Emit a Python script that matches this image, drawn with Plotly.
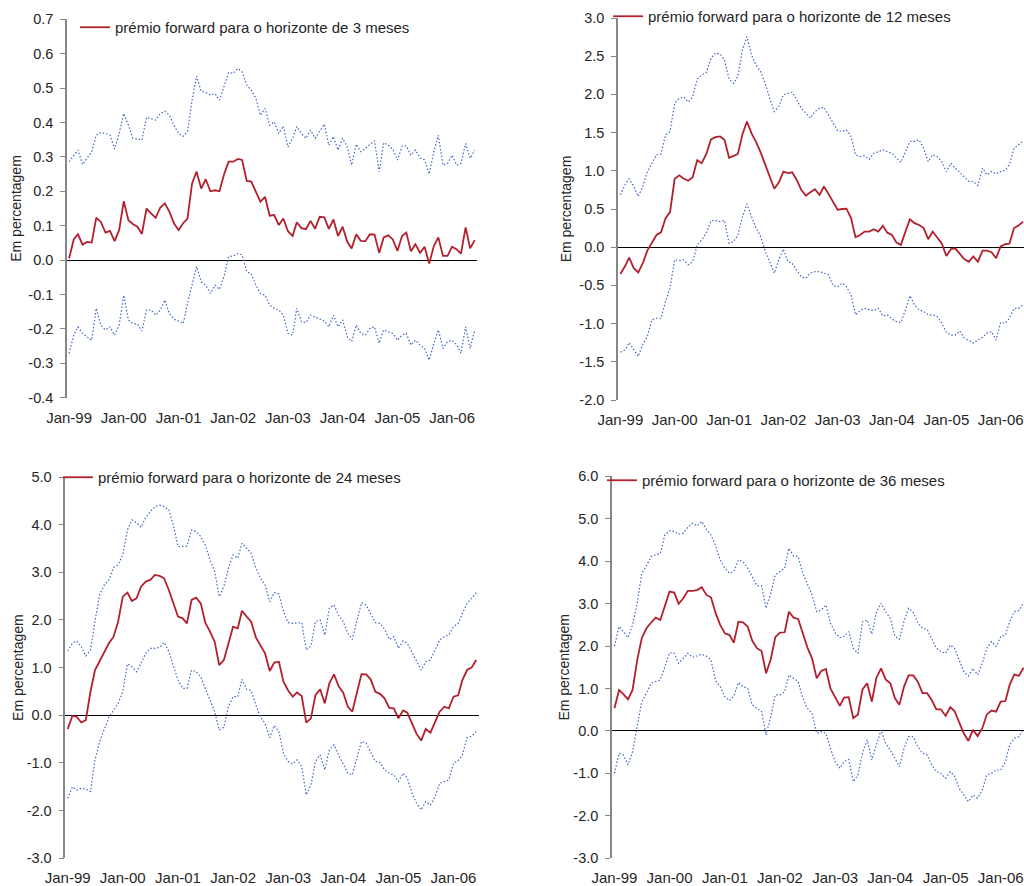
import pandas as pd
import plotly.graph_objects as go

# ---------------- data (monthly, Jan-1999 .. Jun-2006) ----------------
MONTHS = pd.date_range("1999-01-01", periods=90, freq="MS")

PREMIO_3M = [0.005,0.06,0.075,0.045,0.053,0.051,0.123,0.111,0.08,0.085,
0.055,0.087,0.171,0.116,0.105,0.097,0.076,0.15,0.136,0.123,
0.153,0.165,0.14,0.107,0.087,0.108,0.12,0.223,0.257,0.208,
0.235,0.2,0.203,0.2,0.25,0.286,0.286,0.294,0.291,0.23,
0.228,0.198,0.17,0.184,0.129,0.131,0.102,0.121,0.084,0.07,
0.11,0.093,0.09,0.114,0.091,0.126,0.124,0.091,0.118,0.07,
0.097,0.053,0.034,0.075,0.056,0.055,0.075,0.074,0.021,0.066,
0.072,0.06,0.027,0.07,0.08,0.026,0.046,0.021,0.039,-0.01,
0.041,0.066,0.012,0.012,0.039,0.031,0.019,0.095,0.034,0.058]
UPPER_3M = [0.286,0.305,0.32,0.278,0.296,0.315,0.363,0.371,0.368,0.363,
0.323,0.368,0.426,0.392,0.354,0.352,0.349,0.415,0.412,0.407,
0.426,0.433,0.421,0.392,0.368,0.36,0.373,0.465,0.535,0.491,
0.487,0.48,0.484,0.465,0.506,0.545,0.543,0.557,0.547,0.509,
0.494,0.47,0.421,0.441,0.392,0.402,0.368,0.39,0.329,0.354,
0.388,0.368,0.354,0.378,0.354,0.373,0.395,0.334,0.359,0.32,
0.354,0.329,0.276,0.337,0.315,0.325,0.337,0.347,0.257,0.341,
0.334,0.322,0.291,0.331,0.332,0.305,0.32,0.297,0.291,0.25,
0.315,0.363,0.276,0.281,0.305,0.276,0.281,0.339,0.296,0.32]
LOWER_3M = [-0.271,-0.218,-0.194,-0.213,-0.223,-0.233,-0.14,-0.189,-0.203,-0.194,
-0.218,-0.189,-0.102,-0.174,-0.184,-0.186,-0.206,-0.145,-0.145,-0.16,
-0.145,-0.116,-0.155,-0.172,-0.177,-0.184,-0.126,-0.073,-0.019,-0.063,
-0.073,-0.097,-0.073,-0.085,-0.047,0.01,0.012,0.019,0.015,-0.034,
-0.039,-0.073,-0.097,-0.102,-0.131,-0.14,-0.145,-0.16,-0.213,-0.218,
-0.14,-0.179,-0.182,-0.16,-0.165,-0.172,-0.177,-0.194,-0.16,-0.194,
-0.174,-0.223,-0.237,-0.189,-0.213,-0.218,-0.199,-0.194,-0.242,-0.203,
-0.208,-0.213,-0.233,-0.218,-0.213,-0.247,-0.233,-0.247,-0.257,-0.291,
-0.242,-0.203,-0.257,-0.237,-0.233,-0.247,-0.271,-0.194,-0.257,-0.203]

PREMIO_12M = [-0.35,-0.25,-0.135,-0.275,-0.33,-0.21,-0.045,0.065,0.16,0.195,
0.38,0.46,0.895,0.94,0.9,0.87,0.915,1.14,1.1,1.22,
1.41,1.44,1.45,1.405,1.17,1.195,1.22,1.48,1.645,1.49,
1.38,1.24,1.065,0.925,0.765,0.845,0.99,0.97,0.98,0.88,
0.75,0.675,0.72,0.76,0.685,0.795,0.695,0.6,0.49,0.5,
0.505,0.38,0.13,0.16,0.205,0.205,0.235,0.205,0.28,0.19,
0.16,0.06,0.03,0.205,0.365,0.315,0.29,0.25,0.105,0.205,
0.13,0.05,-0.115,-0.025,-0.015,-0.08,-0.155,-0.19,-0.12,-0.19,
-0.045,-0.045,-0.065,-0.145,0.01,0.04,0.045,0.25,0.285,0.335]
UPPER_12M = [0.685,0.815,0.895,0.795,0.665,0.795,0.99,1.1,1.21,1.22,
1.47,1.515,1.885,1.95,1.965,1.9,1.97,2.2,2.255,2.285,
2.475,2.54,2.53,2.45,2.2,2.145,2.235,2.585,2.755,2.515,
2.385,2.3,2.145,1.95,1.775,1.84,1.995,2.015,2.03,1.93,
1.82,1.755,1.69,1.775,1.82,1.83,1.73,1.625,1.525,1.515,
1.535,1.45,1.21,1.185,1.195,1.15,1.23,1.25,1.275,1.25,
1.23,1.165,1.11,1.25,1.385,1.385,1.405,1.295,1.12,1.21,
1.185,1.12,0.99,1.1,1.035,0.98,0.925,0.86,0.86,0.81,
1.035,0.945,0.99,0.96,0.99,1.01,1.08,1.295,1.34,1.385]
LOWER_12M = [-1.375,-1.345,-1.25,-1.345,-1.43,-1.27,-1.17,-0.95,-0.93,-0.93,
-0.71,-0.535,-0.165,-0.175,-0.165,-0.23,-0.19,0.03,0.095,0.185,
0.345,0.35,0.335,0.35,0.05,0.075,0.16,0.4,0.565,0.4,
0.255,0.14,-0.055,-0.19,-0.34,-0.165,-0.025,-0.19,-0.21,-0.305,
-0.385,-0.405,-0.34,-0.32,-0.32,-0.34,-0.36,-0.505,-0.515,-0.47,
-0.515,-0.625,-0.885,-0.83,-0.8,-0.82,-0.83,-0.8,-0.9,-0.885,
-0.94,-0.975,-0.985,-0.82,-0.635,-0.755,-0.82,-0.84,-0.885,-0.885,
-0.91,-0.995,-1.115,-1.15,-1.15,-1.095,-1.19,-1.22,-1.255,-1.215,
-1.18,-1.125,-1.105,-1.215,-0.985,-0.995,-0.93,-0.8,-0.8,-0.755]

PREMIO_24M = [-0.29,-0.01,-0.03,-0.15,-0.1,0.5,0.95,1.15,1.34,1.51,
1.65,1.965,2.49,2.575,2.4,2.455,2.7,2.805,2.84,2.945,
2.925,2.875,2.63,2.35,2.07,2.035,1.93,2.42,2.47,2.35,
1.945,1.755,1.545,1.055,1.16,1.5,1.86,1.825,2.195,2.07,
1.965,1.635,1.475,1.3,0.93,1.105,1.125,0.705,0.52,0.39,
0.48,0.405,-0.155,-0.065,0.425,0.545,0.25,0.67,0.86,0.615,
0.475,0.18,0.075,0.46,0.865,0.86,0.755,0.495,0.45,0.355,
0.155,0.145,-0.065,0.1,0.055,-0.17,-0.39,-0.53,-0.285,-0.365,
-0.155,0.075,0.18,0.145,0.39,0.42,0.74,0.95,1.0,1.16]
UPPER_24M = [1.35,1.51,1.56,1.44,1.245,1.37,1.98,2.545,2.735,2.84,
3.1,3.155,3.365,3.89,4.1,4.04,3.945,4.155,4.27,4.38,
4.41,4.38,4.31,3.995,3.54,3.54,3.55,3.89,3.855,3.75,
3.575,3.26,3.015,2.49,2.7,3.085,3.365,3.295,3.61,3.505,
3.4,3.085,2.875,2.735,2.385,2.575,2.545,2.175,1.945,1.93,
1.93,1.945,1.37,1.455,1.965,2.0,1.685,2.245,2.315,2.105,
1.965,1.72,1.595,2.0,2.365,2.315,2.14,1.945,1.93,1.805,
1.595,1.65,1.405,1.56,1.51,1.315,1.125,0.95,1.125,1.16,
1.37,1.58,1.65,1.685,1.86,1.93,2.14,2.35,2.455,2.575]
LOWER_24M = [-1.74,-1.5,-1.57,-1.53,-1.55,-1.6,-0.935,-0.55,-0.29,-0.04,
0.1,0.25,0.5,1.08,1.02,0.915,1.09,1.3,1.405,1.405,
1.425,1.53,1.335,1.035,0.74,0.565,0.565,0.95,0.915,0.8,
0.565,0.32,0.075,-0.31,-0.25,0.18,0.39,0.39,0.755,0.545,
0.52,0.215,-0.03,-0.17,-0.47,-0.215,-0.345,-0.8,-0.97,-1.02,
-0.935,-1.075,-1.67,-1.46,-0.97,-0.83,-1.145,-0.725,-0.62,-0.83,
-1.04,-1.215,-1.25,-0.9,-0.55,-0.585,-0.76,-0.97,-0.99,-1.145,
-1.215,-1.25,-1.39,-1.215,-1.32,-1.635,-1.845,-1.985,-1.81,-1.88,
-1.705,-1.425,-1.39,-1.355,-1.005,-0.95,-0.83,-0.47,-0.435,-0.345]

PREMIO_36M = [0.535,0.965,0.87,0.745,0.965,1.675,2.185,2.42,2.555,2.67,
2.615,2.97,3.285,3.26,2.995,3.125,3.3,3.3,3.32,3.385,
3.205,3.15,2.775,2.5,2.3,2.26,2.08,2.575,2.56,2.46,
2.13,1.95,1.885,1.36,1.69,2.21,2.315,2.325,2.81,2.67,
2.64,2.3,1.97,1.71,1.24,1.415,1.46,1.005,0.81,0.59,
0.785,0.795,0.3,0.39,0.98,1.125,0.69,1.255,1.475,1.215,
1.125,0.77,0.615,1.045,1.31,1.31,1.16,0.89,0.89,0.73,
0.51,0.51,0.355,0.56,0.47,0.18,-0.055,-0.235,0.025,-0.12,
0.065,0.39,0.48,0.455,0.69,0.705,1.085,1.335,1.295,1.49]
UPPER_36M = [2.0,2.46,2.34,2.2,2.5,3.01,3.715,3.89,4.11,4.15,
4.185,4.62,4.72,4.7,4.635,4.66,4.8,4.895,4.83,4.935,
4.75,4.62,4.36,4.03,3.835,3.715,3.755,4.03,3.99,3.835,
3.635,3.425,3.425,2.89,3.245,3.675,3.755,3.835,4.305,4.125,
4.11,3.715,3.465,3.205,2.81,2.85,2.97,2.535,2.315,2.2,
2.225,2.34,1.95,1.83,2.575,2.615,2.28,2.81,3.01,2.81,
2.655,2.225,2.16,2.59,2.89,2.795,2.555,2.42,2.395,2.185,
1.95,1.87,1.83,2.025,1.95,1.675,1.4,1.295,1.475,1.32,
1.595,1.95,2.105,1.99,2.225,2.26,2.575,2.81,2.835,3.025]
LOWER_36M = [-1.0,-0.525,-0.565,-0.8,-0.485,0.1,0.69,0.89,1.125,1.165,
1.2,1.515,1.845,1.83,1.595,1.71,1.83,1.735,1.765,1.805,
1.765,1.675,1.185,1.045,0.81,0.715,0.825,1.14,1.045,1.005,
0.615,0.535,0.455,-0.095,0.34,0.85,0.85,0.925,1.32,1.24,
1.165,0.77,0.535,0.415,-0.055,-0.015,-0.055,-0.41,-0.725,-0.88,
-0.725,-0.67,-1.195,-1.035,-0.525,-0.21,-0.685,-0.33,0.025,-0.29,
-0.45,-0.645,-0.84,-0.41,-0.135,-0.135,-0.37,-0.525,-0.565,-0.8,
-0.96,-1.0,-1.115,-0.96,-1.06,-1.35,-1.51,-1.665,-1.51,-1.585,
-1.39,-1.035,-1.0,-0.92,-0.92,-0.725,-0.33,-0.175,-0.135,0.04]

LEGEND_NAMES = [
    "prémio forward para o horizonte de 3 meses",
    "prémio forward para o horizonte de 12 meses",
    "prémio forward para o horizonte de 24 meses",
    "prémio forward para o horizonte de 36 meses",
]
Y_TITLE = "Em percentagem"

# y-axis tick values / labels (hyphen minus as in the original)
Y_TICKS_3M = [-0.4, -0.3, -0.2, -0.1, 0.0, 0.1, 0.2, 0.3, 0.4, 0.5, 0.6, 0.7]
Y_TICKS_12M = [-2.0, -1.5, -1.0, -0.5, 0.0, 0.5, 1.0, 1.5, 2.0, 2.5, 3.0]
Y_TICKS_24M = [-3.0, -2.0, -1.0, 0.0, 1.0, 2.0, 3.0, 4.0, 5.0]
Y_TICKS_36M = [-3.0, -2.0, -1.0, 0.0, 1.0, 2.0, 3.0, 4.0, 5.0, 6.0]

PANELS = [
    (PREMIO_3M, UPPER_3M, LOWER_3M, Y_TICKS_3M),
    (PREMIO_12M, UPPER_12M, LOWER_12M, Y_TICKS_12M),
    (PREMIO_24M, UPPER_24M, LOWER_24M, Y_TICKS_24M),
    (PREMIO_36M, UPPER_36M, LOWER_36M, Y_TICKS_36M),
]

# ---------------- layout / style ----------------
W, H = 1024, 886
FONT = "Liberation Sans, Arial, sans-serif"
RED = "#B3202D"
BLUE = "#3F66C8"
AXIS_GRAY = "#868686"
TEXT = "#262626"

# plot-area pixel boxes: (x_left, x_right, y_top, y_bottom)
BOXES = [
    (67, 477, 19.3, 397.7),
    (618, 1024, 18.0, 400.0),
    (65.3, 479, 477.0, 858.3),
    (612, 1024, 476.3, 858.3),
]
X_RANGES = [
    ["1998-12-18", "2006-06-16"],
    ["1998-12-16", "2006-06-07"],
    ["1998-12-16", "2006-06-19"],
    ["1998-12-16", "2006-06-04"],
]
TITLE_STANDOFF = [3, 4, 0, 0]
LEGEND_POS = [(115, 27), (648, 14), (98, 477), (642, 480)]  # text start x, text centre y
LEGEND_TEXT_OFFSET_X = 40
LEGEND_TEXT_OFFSET_Y = 16

fig = go.Figure()
layout = dict(
    width=W, height=H, autosize=False,
    margin=dict(l=0, r=0, t=0, b=0, pad=0),
    paper_bgcolor="white", plot_bgcolor="white",
    font=dict(family=FONT, size=14, color=TEXT),
)

for i, (mid, up, lo, yt_vals) in enumerate(PANELS):
    n = i + 1
    xa = "x" if n == 1 else f"x{n}"
    ya = "y" if n == 1 else f"y{n}"
    leg = "legend" if n == 1 else f"legend{n}"
    for band in (up, lo):
        fig.add_trace(go.Scatter(x=MONTHS, y=band, mode="lines", xaxis=xa, yaxis=ya,
                                 line=dict(color=BLUE, width=1.2, dash="1.5px,2px"),
                                 showlegend=False, hoverinfo="skip"))
    fig.add_trace(go.Scatter(x=MONTHS, y=mid, mode="lines", xaxis=xa, yaxis=ya,
                             line=dict(color=RED, width=1.8),
                             name=LEGEND_NAMES[i], legend=leg, showlegend=True))

    xl, xr, ytop, ybot = BOXES[i]
    xkey = "xaxis" if n == 1 else f"xaxis{n}"
    ykey = "yaxis" if n == 1 else f"yaxis{n}"
    layout[xkey] = dict(
        domain=[xl / W, xr / W], anchor=ya, type="date", automargin=False,
        range=X_RANGES[i], showgrid=False, zeroline=False, showline=False,
        tick0="1999-01-01", dtick="M12", tickformat="%b-%y",
        ticks="outside", ticklen=6, tickcolor="rgba(0,0,0,0)",
        tickfont=dict(size=15, color=TEXT, family=FONT),
    )
    layout[ykey] = dict(
        domain=[1 - ybot / H, 1 - ytop / H], anchor=xa, automargin=False,
        range=[yt_vals[0], yt_vals[-1]],
        tickmode="array", tickvals=yt_vals, ticktext=[f"{v:.1f}" for v in yt_vals],
        showgrid=False, zeroline=True, zerolinecolor="#000000", zerolinewidth=1,
        showline=True, linecolor=AXIS_GRAY, linewidth=1.5,
        ticks="outside", ticklen=5, tickcolor=AXIS_GRAY, tickwidth=1,
        ticklabelstandoff=4,
        tickfont=dict(size=14.5, color=TEXT, family=FONT),
        title=dict(text=Y_TITLE, standoff=TITLE_STANDOFF[i],
                   font=dict(size=14, color=TEXT, family=FONT)),
    )
    lx, ly = LEGEND_POS[i]
    layout[leg] = dict(
        x=(lx - LEGEND_TEXT_OFFSET_X) / W,
        y=min(1.0, 1 - (ly - LEGEND_TEXT_OFFSET_Y) / H),
        xanchor="left", yanchor="top",
        bgcolor="rgba(0,0,0,0)", borderwidth=0, itemwidth=30,
        font=dict(size=15, color=TEXT, family=FONT),
    )

fig.update_layout(**layout)
fig.write_html(
    "out.html",
    config={"displayModeBar": False},
    post_script="document.body.style.margin='0px';document.body.style.overflow='hidden';",
)
